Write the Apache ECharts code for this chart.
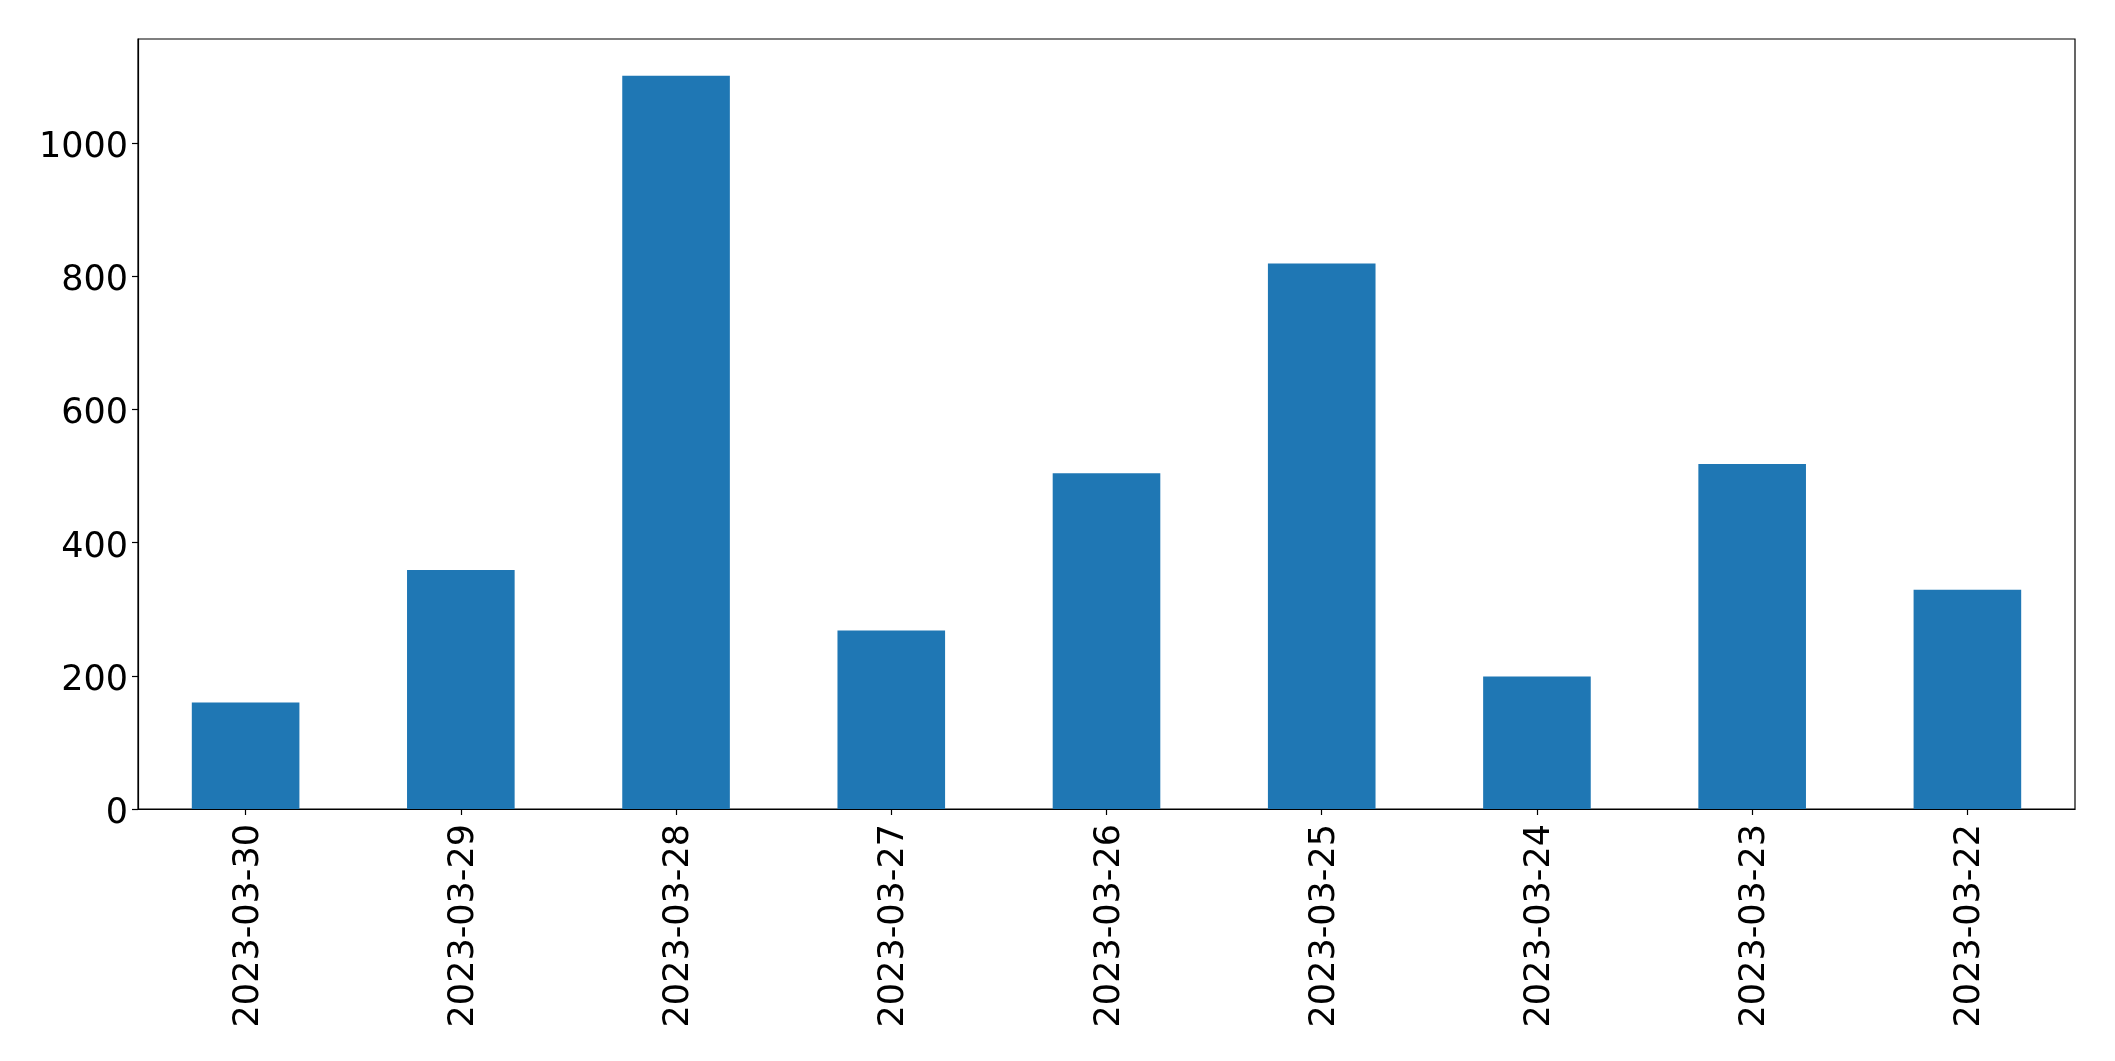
<!DOCTYPE html>
<html>
<head>
<meta charset="utf-8">
<script src="https://cdn.jsdelivr.net/npm/echarts@6/dist/echarts.min.js"></script>
<style>
html,body{margin:0;padding:0;background:#fff;}
#chart{width:2115px;height:1061px;}
</style>
</head>
<body>
<div id="chart"></div>
<script>
const categories = ['2023-03-30','2023-03-29','2023-03-28','2023-03-27','2023-03-26','2023-03-25','2023-03-24','2023-03-23','2023-03-22'];
const values = [160, 359, 1101, 268, 504, 819, 199, 518, 329];
const yTicks = [0, 200, 400, 600, 800, 1000];

const chart = echarts.init(document.getElementById('chart'), null, {renderer: 'canvas'});
const font = 'DejaVu Sans';
const yMax = Math.max(...values) * 1.05;
chart.setOption({
  animation: false,
  backgroundColor: '#ffffff',
  grid: {
    left: 138, right: 40, top: 39, bottom: 252,
    show: true, borderColor: '#000', borderWidth: 1.2, backgroundColor: 'transparent'
  },
  xAxis: {
    type: 'category',
    data: categories,
    boundaryGap: true,
    axisLine: {show: true, lineStyle: {color: '#000', width: 1.2}},
    axisTick: {show: true, alignWithLabel: true, length: 6, lineStyle: {color: '#000', width: 1.2}},
    axisLabel: {rotate: 90, margin: 15, fontFamily: font, fontSize: 35, color: '#000', interval: 0,
      formatter: v => '{t|' + v + '}',
      rich: {t: {fontFamily: font, fontSize: 35, color: '#000', padding: [6, 0, 0, 0]}}},
    splitLine: {show: false}
  },
  yAxis: {
    type: 'value',
    min: 0,
    max: yMax,
    interval: 200,
    axisLine: {show: true, lineStyle: {color: '#000', width: 1.2}},
    axisTick: {show: true, length: 6, customValues: yTicks, lineStyle: {color: '#000', width: 1.2}},
    axisLabel: {margin: 10, fontFamily: font, fontSize: 35, color: '#000', customValues: yTicks,
      formatter: v => '{t|' + String(v) + '}',
      rich: {t: {fontFamily: font, fontSize: 35, color: '#000', padding: [10, 0, 0, 0]}}},
    splitLine: {show: false}
  },
  series: [{
    type: 'bar',
    data: values,
    barWidth: '50%',
    itemStyle: {color: '#1f77b4'}
  }]
});
</script>
</body>
</html>
